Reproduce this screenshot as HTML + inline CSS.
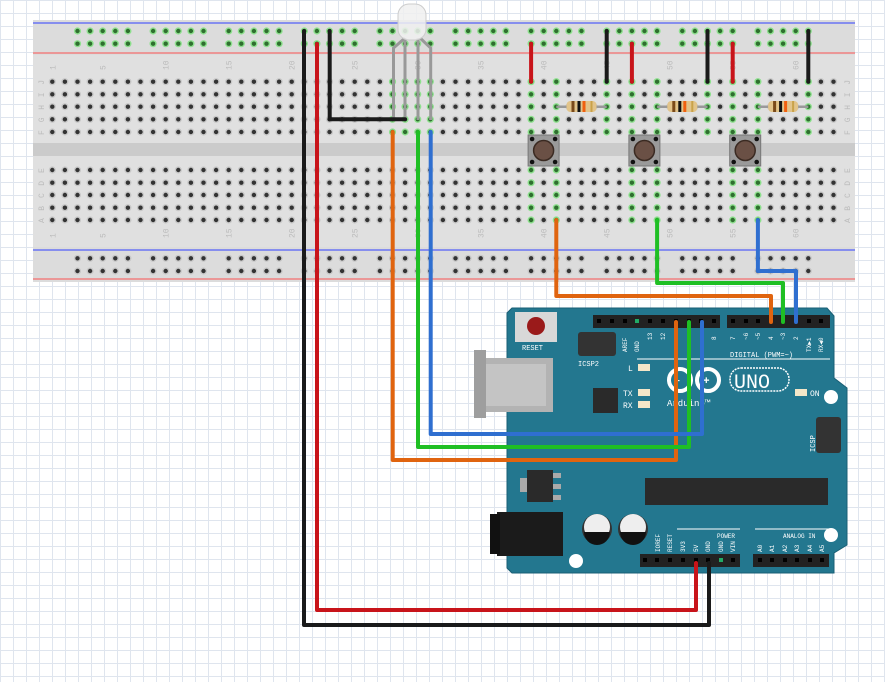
<!DOCTYPE html>
<html><head><meta charset="utf-8"><style>
html,body{margin:0;padding:0;background:#fff}
body{width:885px;height:682px;overflow:hidden;
background-image:linear-gradient(#dfe5ee 1px,transparent 1px),linear-gradient(90deg,#dfe5ee 1px,transparent 1px);background-size:13px 13px;}
svg{position:absolute;left:0;top:0}
text{font-family:"Liberation Mono",monospace}
</style></head><body>
<svg id="s" width="885" height="682" viewBox="0 0 885 682" xmlns="http://www.w3.org/2000/svg">
<!-- breadboard -->
<rect x="33" y="20" width="822" height="262" fill="#dcdcdc"/>
<rect x="33" y="55" width="822" height="192" fill="#e0e0e0"/>
<rect x="33" y="143" width="822" height="13" fill="#cbcbcb"/>
<line x1="33" y1="23" x2="855" y2="23" stroke="#3040ff" stroke-width="1"/>
<line x1="33" y1="53" x2="855" y2="53" stroke="#f08080" stroke-width="1.5"/>
<line x1="33" y1="250" x2="855" y2="250" stroke="#3040ff" stroke-width="1"/>
<line x1="33" y1="279" x2="855" y2="279" stroke="#f08080" stroke-width="1.5"/>
<g id="holes"></g>
<g id="lbl" fill="#bbb" font-size="8"></g>
</svg>
<script>
const NS='http://www.w3.org/2000/svg';
const cx=n=>52.3+(n-1)*12.6;
let h='';
const rowsT=[81.7,94.3,106.7,119.3,132], rowsB=[170,182.7,195,207.7,220];
const gT=[39,41,45,47,49,53,55,57,61,28,29,30,31], gB=[39,41,47,49,55,57];
function hole(x,y,g){h+=`<circle cx="${x}" cy="${y}" r="3.6" fill="${g?'#8ee08e':'#c8c8c8'}"/><circle cx="${x}" cy="${y}" r="2.2" fill="${g?'#2f6f2f':'#333'}"/>`;}
for(let n=1;n<=63;n++){
 rowsT.forEach(y=>hole(cx(n),y,gT.includes(n)));
 rowsB.forEach(y=>hole(cx(n),y,gB.includes(n)));
}
for(let k=0;k<10;k++)for(let j=0;j<5;j++){let n=3+6*k+j;
 hole(cx(n),31,true);hole(cx(n),43.7,true);hole(cx(n),258.3,false);hole(cx(n),271,false);}
let l='';
[1,5,10,15,20,25,30,35,40,45,50,55,60].forEach(n=>{
 l+=`<text transform="translate(${cx(n)+3},${70}) rotate(-90)">${n}</text>`;
 l+=`<text transform="translate(${cx(n)+3},${238}) rotate(-90)">${n}</text>`;});
'JIHGF'.split('').forEach((c,i)=>{l+=`<text transform="translate(${44},${rowsT[i]+3}) rotate(-90)">${c}</text><text transform="translate(${850},${rowsT[i]+3}) rotate(-90)">${c}</text>`});
'EDCBA'.split('').forEach((c,i)=>{l+=`<text transform="translate(${44},${rowsB[i]+3}) rotate(-90)">${c}</text><text transform="translate(${850},${rowsB[i]+3}) rotate(-90)">${c}</text>`});
document.getElementById('holes').innerHTML=h;
document.getElementById('lbl').innerHTML=l;

let s='';
// resistors
[[41,45],[49,53],[57,61]].forEach(([a,b])=>{const x1=cx(a),x2=cx(b),m=(x1+x2)/2;
 s+=`<line x1="${x1}" y1="106.7" x2="${x2}" y2="106.7" stroke="#999" stroke-width="2.5"/>
 <rect x="${m-15}" y="101" width="30" height="11" rx="4" fill="#e2c48a"/>
 <rect x="${m-10}" y="101" width="3" height="11" fill="#7a4a1a"/><rect x="${m-4}" y="101" width="3" height="11" fill="#111"/><rect x="${m+1}" y="101" width="3" height="11" fill="#f06010"/><rect x="${m+9}" y="101" width="2" height="11" fill="#c9a24a"/>`;});
// buttons
[39,47,55].forEach(a=>{const x=cx(a)-3;
 s+=`<rect x="${x}" y="135" width="31" height="31" fill="#9a9a9a" stroke="#777"/>
 <circle cx="${x+15.5}" cy="150.5" r="10" fill="#6a5045" stroke="#3a2a22" stroke-width="1.5"/>
 <circle cx="${x+4}" cy="139" r="2.3" fill="#111"/><circle cx="${x+27}" cy="139" r="2.3" fill="#111"/><circle cx="${x+4}" cy="162" r="2.3" fill="#111"/><circle cx="${x+27}" cy="162" r="2.3" fill="#111"/>`;});
// short jumpers
[[39,'#c8141a',43.7],[47,'#c8141a',43.7],[55,'#c8141a',43.7],[45,'#1a1a1a',31],[53,'#1a1a1a',31],[61,'#1a1a1a',31]].forEach(([n,c,y])=>{
 s+=`<line x1="${cx(n)}" y1="${y}" x2="${cx(n)}" y2="81.7" stroke="${c}" stroke-width="4" stroke-linecap="round"/>`;});

// Arduino
s+=`<polygon points="512,308 827,308 834,316 834,378 847,388 847,545 834,553 834,573 512,573 507,568 507,313" fill="#23778f" stroke="#1a5f74"/>
<circle cx="535" cy="321" r="7" fill="#fff"/><circle cx="831" cy="397" r="7" fill="#fff"/><circle cx="831" cy="535" r="7" fill="#fff"/><circle cx="576" cy="561" r="7" fill="#fff"/>
<rect x="474" y="358" width="79" height="54" fill="#b3b3b3"/><rect x="474" y="350" width="12" height="68" fill="#9e9e9e"/><rect x="486" y="364" width="60" height="42" fill="#c4c4c4"/>
<rect x="515" y="312" width="42" height="30" fill="#d8d8d8"/><circle cx="536" cy="326" r="9" fill="#9a1a1a"/>
<text x="522" y="350" font-size="7" fill="#fff">RESET</text>
<rect x="578" y="332" width="38" height="24" rx="3" fill="#333"/>
<text x="578" y="366" font-size="7" fill="#fff">ICSP2</text>
<rect x="593" y="388" width="25" height="25" fill="#2a2a2a"/>
<rect x="645" y="478" width="183" height="27" fill="#2a2a2a"/>
<rect x="527" y="470" width="26" height="32" fill="#2a2a2a"/><rect x="553" y="473" width="8" height="5" fill="#aaa"/><rect x="553" y="484" width="8" height="5" fill="#aaa"/><rect x="553" y="495" width="8" height="5" fill="#aaa"/><rect x="520" y="478" width="7" height="14" fill="#aaa"/>
<rect x="497" y="512" width="66" height="44" fill="#1b1b1b"/><rect x="490" y="514" width="10" height="40" fill="#111"/>
<circle cx="597" cy="529" r="15" fill="#333"/><circle cx="597" cy="527" r="13" fill="#eee"/><path d="M584,532 h26 a13,13 0 0 1 -26,0z" fill="#111"/>
<circle cx="633" cy="529" r="15" fill="#333"/><circle cx="633" cy="527" r="13" fill="#eee"/><path d="M620,532 h26 a13,13 0 0 1 -26,0z" fill="#111"/>
<rect x="638" y="364" width="12" height="7" fill="#f3e6c8"/><rect x="638" y="389" width="12" height="7" fill="#f3e6c8"/><rect x="638" y="401" width="12" height="7" fill="#f3e6c8"/><rect x="795" y="389" width="12" height="7" fill="#f3e6c8"/>
<text x="628" y="371" font-size="8" fill="#fff">L</text><text x="623" y="396" font-size="8" fill="#fff">TX</text><text x="623" y="408" font-size="8" fill="#fff">RX</text><text x="810" y="396" font-size="8" fill="#fff">ON</text>
<line x1="637" y1="359" x2="830" y2="359" stroke="#fff" stroke-width="1"/>
<text x="730" y="357" font-size="7" fill="#fff">DIGITAL (PWM=~)</text>
<circle cx="680" cy="380" r="11" fill="none" stroke="#fff" stroke-width="4"/><circle cx="708" cy="380" r="11" fill="none" stroke="#fff" stroke-width="4"/>
<text x="674" y="384" font-size="10" fill="#fff" font-weight="bold">−</text><text x="703" y="384" font-size="11" fill="#fff" font-weight="bold">+</text>
<rect x="730" y="368" width="59" height="23" rx="11" fill="none" stroke="#fff" stroke-width="1.5" stroke-dasharray="2,1"/>
<text x="734" y="388" font-size="20" fill="#fff" font-family="Liberation Sans">UNO</text>
<text x="667" y="406" font-size="9" fill="#fff" font-family="Liberation Sans">Arduino™</text>
<rect x="816" y="417" width="25" height="36" rx="3" fill="#333"/><text transform="translate(815,452) rotate(-90)" font-size="7" fill="#fff">ICSP</text>
<line x1="677" y1="529" x2="740" y2="529" stroke="#fff"/><line x1="755" y1="529" x2="833" y2="529" stroke="#fff"/>
<text x="717" y="538" font-size="6" fill="#fff">POWER</text><text x="783" y="538" font-size="6" fill="#fff">ANALOG IN</text>
<rect x="593" y="315" width="127" height="13" fill="#222"/><rect x="727" y="315" width="103" height="13" fill="#222"/>
<rect x="640" y="554" width="100" height="13" fill="#222"/><rect x="753" y="554" width="76" height="13" fill="#222"/>`;
[599,612,625,637,650,663,676,689,701,714,733,746,758,771,783,796,809,821].forEach(x=>s+=`<rect x="${x-2}" y="319" width="4" height="4" fill="${x==637?'#2a6':'#000'}"/>`);
[645,657,670,683,696,708,721,733,760,772,785,797,810,822].forEach(x=>s+=`<rect x="${x-2}" y="558" width="4" height="4" fill="${x==721?'#2a6':'#000'}"/>`);
const tl=[[625,'AREF'],[637,'GND'],[650,'13'],[663,'12'],[714,'8'],[733,'7'],[746,'~6'],[758,'~5'],[771,'4'],[783,'~3'],[796,'2'],[809,'TX▶1'],[821,'RX◀0']];
tl.forEach(([x,t])=>s+=`<text transform="translate(${x+2},${t.length>2?352:340}) rotate(-90)" font-size="6" fill="#fff">${t}</text>`);
[[658,'IOREF'],[670,'RESET'],[683,'3V3'],[696,'5V'],[708,'GND'],[721,'GND'],[733,'VIN'],[760,'A0'],[772,'A1'],[785,'A2'],[797,'A3'],[810,'A4'],[822,'A5']].forEach(([x,t])=>s+=`<text transform="translate(${x+2},552) rotate(-90)" font-size="6" fill="#fff">${t}</text>`);

// LED
s+=`<path d="M393.5,120 V48 L405,38 M405,120 V38 M418,120 V38 M430.7,120 V48 L420,38" stroke="#999" stroke-width="3" fill="none"/>
<rect x="398" y="4" width="28" height="36" rx="11" fill="#f0f0f0" fill-opacity="0.85" stroke="#ccc"/>`;
// long wires
function w(d,c){s+=`<path d="${d}" stroke="${c}" stroke-width="4" fill="none" stroke-linejoin="round" stroke-linecap="round"/>`;}
w('M304,31 V625 H709 V563','#1a1a1a');
w('M317,44 V610 H696 V563','#c8141a');
w(`M329.7,31 V119.3 H405`,'#1a1a1a');
w('M392.7,132 V460 H676 V322','#e0640f');
w('M418,132 V447 H689 V322','#1fbf24');
w('M430.7,132 V434 H702 V322','#2f6fd0');
w(`M${cx(41)},220 V296 H771 V322`,'#e0640f');
w(`M${cx(49)},220 V283 H783 V322`,'#1fbf24');
w(`M${cx(57)},220 V271 H796 V322`,'#2f6fd0');
document.getElementById('s').insertAdjacentHTML('beforeend',s);
</script>
</body></html>
